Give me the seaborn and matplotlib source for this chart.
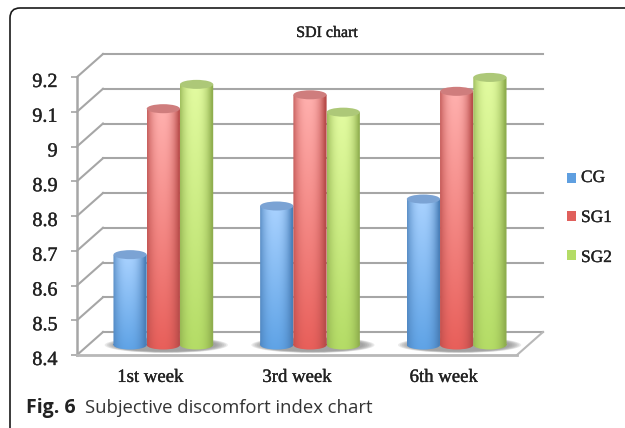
import matplotlib
matplotlib.use("Agg")
import matplotlib.pyplot as plt
import matplotlib.patheffects as pe
import numpy as np
import pandas as pd
import seaborn as sns

from matplotlib.patches import Ellipse, FancyBboxPatch, Rectangle, PathPatch
from matplotlib.path import Path
from matplotlib.lines import Line2D
from matplotlib.transforms import Affine2D

weeks = ["1st week", "3rd week", "6th week"]
groups = ["CG", "SG1", "SG2"]
cg_values = [8.66, 8.80, 8.82]
sg1_values = [9.08, 9.12, 9.13]
sg2_values = [9.15, 9.07, 9.17]
y_ticks = [8.4, 8.5, 8.6, 8.7, 8.8, 8.9, 9.0, 9.1, 9.2]
y_tick_labels = ["8.4", "8.5", "8.6", "8.7", "8.8", "8.9", "9", "9.1", "9.2"]

# base colour of each cylinder: edge, middle, top cap, legend
bar_edge = {"CG": "#4a7fb8", "SG1": "#b84c4a", "SG2": "#8fae4e"}
bar_mid_top = {"CG": "#a9d2ff", "SG1": "#ffb0ae", "SG2": "#e2fba0"}
bar_mid_bottom = {"CG": "#5fa3e6", "SG1": "#e85f5a", "SG2": "#b4dc66"}
bar_cap = {"CG": "#7ba3d4", "SG1": "#cf7d7d", "SG2": "#adc878"}
legend_colors = {"CG": "#5f9fe0", "SG1": "#e0605c", "SG2": "#b4dc66"}

W, H = 625, 428
SERIF = "Liberation Serif"
GRID = "#a6a6a6"
# thickens the thin serif a little, the original font is heavier
HEAVY = [pe.withStroke(linewidth=0.25, foreground="#222222")]


def px_axes(fig, left, top, right, bottom):
    return fig.add_axes([left / W, 1 - bottom / H, (right - left) / W, (bottom - top) / H])


def hex_rgb(c):
    return np.array(matplotlib.colors.to_rgb(c))


def cylinder_image(group):
    # horizontal shading (dark edges, light middle) blended top to bottom
    n_x, n_y = 60, 120
    u = np.linspace(-1, 1, n_x)
    light = (1 - np.abs(u + 0.1) ** 2.4).clip(0, 1)[None, :, None]
    t = np.linspace(0, 1, n_y)[:, None, None]
    mid = hex_rgb(bar_mid_top[group]) * (1 - t) + hex_rgb(bar_mid_bottom[group]) * t
    return hex_rgb(bar_edge[group]) * (1 - light) + mid * light


df = pd.DataFrame({"week": weeks, "CG": cg_values, "SG1": sg1_values, "SG2": sg2_values})
long_df = df.melt(id_vars="week", var_name="group", value_name="sdi")

fig = plt.figure(figsize=(W / 100, H / 100), dpi=100)
fig.patch.set_facecolor("white")

# outer rounded frame, open past the right and lower edges of the image
frame = px_axes(fig, 0, 0, W, H)
frame.set_xlim(0, W)
frame.set_ylim(H, 0)
frame.axis("off")
frame.add_patch(FancyBboxPatch((10, 8), W + 20, H + 20, boxstyle="round,pad=0,rounding_size=10",
                               fc="white", ec="#1a1a1a", lw=1.2))

# front plane of the 3D box carries ticks and labels
ax = px_axes(fig, 77, 77, 517, 355)
ax.patch.set_alpha(0)
ax.set_xlim(-0.5, 2.5)
ax.set_ylim(8.4, 9.2)
sns.despine(ax=ax, top=True, right=True, left=True, bottom=True)
ax.set_xticks(range(3))
ax.set_xticklabels(weeks, fontfamily=SERIF, fontsize=13.5, color="#222222", path_effects=HEAVY)
ax.set_yticks(y_ticks)
ax.set_yticklabels(y_tick_labels, fontfamily=SERIF, fontsize=14.5, color="#222222", path_effects=HEAVY)
ax.tick_params(axis="x", length=0, pad=10)
ax.tick_params(axis="y", length=4, width=1.2, color=GRID, pad=10)
for t in ax.get_yticklabels():
    t.set_transform(t.get_transform() + Affine2D().translate(0, -3))

back = ax.transData + Affine2D().translate(26, 23)
for v in y_ticks:
    # side wall then back wall
    x0, y0 = ax.transData.transform((-0.5, v))
    ax.add_line(Line2D([x0, x0 + 26], [y0, y0 + 23], transform=None, color=GRID, lw=1.5, clip_on=False))
    ax.add_line(Line2D([-0.5, 2.5], [v, v], transform=back, color=GRID, lw=1.5, clip_on=False))
ax.add_line(Line2D([-0.5, -0.5], [8.4, 9.2], color=GRID, lw=1.8, clip_on=False))
ax.add_line(Line2D([-0.5, 2.5], [8.4, 8.4], color="#b8b8b8", lw=2, clip_on=False))
x1, y1 = ax.transData.transform((2.5, 8.4))
ax.add_line(Line2D([x1, x1 + 26], [y1, y1 + 23], transform=None, color="#b8b8b8", lw=1.5, clip_on=False))

# bars stand half way back in the box, 10 px of axes left below 8.4 for the rounded feet
bar_ax = px_axes(fig, 90, 67, 530, 355)
bar_ax.patch.set_alpha(0)
sns.barplot(data=long_df, x="week", y="sdi", hue="group", hue_order=groups, order=weeks,
            width=0.68, gap=0, legend=False, ax=bar_ax)
y_low = 8.4 - 10 / 347.5
bar_ax.set_xlim(-0.5, 2.5)
bar_ax.set_ylim(y_low, 9.2)
bar_ax.axis("off")

cap_h = 0.026
# soft floor shadow under each group
for i in range(len(weeks)):
    for grow in [1.0, 0.97, 0.94, 0.91, 0.88, 0.85, 0.82]:
        bar_ax.add_patch(Ellipse((i + 0.02, 8.4), 0.84 * grow, 0.046 * grow, fc="#808080",
                                 ec="none", alpha=0.16, clip_on=False, zorder=1))

bars = [p for p in bar_ax.patches if isinstance(p, Rectangle)]
for j, group in enumerate(groups):
    for i in range(len(weeks)):
        p = bars[j * len(weeks) + i]
        x0, w, top = p.get_x(), p.get_width(), p.get_height()
        p.set_visible(False)
        # body: rectangle plus rounded foot, shaded with a clipped image
        low = 8.4 - cap_h / 2
        rect = Path.unit_rectangle().transformed(Affine2D().scale(w, top - 8.4).translate(x0, 8.4))
        foot = Path.unit_circle().transformed(Affine2D().scale(w / 2, cap_h / 2).translate(x0 + w / 2, 8.4))
        clip = PathPatch(Path.make_compound_path(rect, foot), transform=bar_ax.transData, fc="none", ec="none")
        bar_ax.add_patch(clip)
        im = bar_ax.imshow(cylinder_image(group), extent=(x0, x0 + w, low, top), aspect="auto",
                           origin="upper", zorder=3 + j, interpolation="bilinear")
        im.set_clip_path(clip)
        bar_ax.add_patch(Ellipse((x0 + w / 2, top), w, cap_h, fc=bar_cap[group], ec="none",
                                 zorder=3 + j, clip_on=False))
bar_ax.set_xlim(-0.5, 2.5)
bar_ax.set_ylim(y_low, 9.2)

# texts and legend in pixel coordinates
frame.text(327, 33, "SDI chart", family=SERIF, fontsize=11.5, color="#222222", ha="center", va="center",
           path_effects=HEAVY)
legend_y = [178, 216, 255]
label_y = [178, 218, 258]
for group, ly, ty in zip(groups, legend_y, label_y):
    frame.add_patch(Rectangle((567, ly - 5), 9, 10, fc=legend_colors[group], ec="none", zorder=6))
    frame.text(581, ty, group, family=SERIF, fontsize=12.5, color="#222222", va="center", zorder=6,
               path_effects=HEAVY)

frame.text(26, 408, "Fig. 6", family="Open Sans", fontweight="bold", fontsize=14, color="#222222", va="center")
frame.text(85, 408, "Subjective discomfort index chart", family="Open Sans", fontsize=13.3,
           color="#333333", va="center")

fig.savefig("out.png", dpi=100)
